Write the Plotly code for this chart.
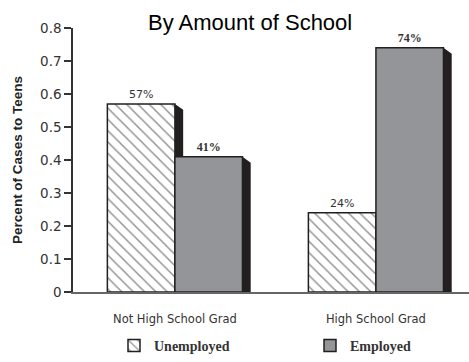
import plotly.graph_objects as go

categories = ["Not High School Grad", "High School Grad"]
unemployed = [0.57, 0.24]
employed = [0.41, 0.74]
series_names = ["Unemployed", "Employed"]
y_ticks = [0, 0.1, 0.2, 0.3, 0.4, 0.5, 0.6, 0.7, 0.8]
y_ticktext = ["0", "0.1", "0.2", "0.3", "0.4", "0.5", "0.6", "0.7", "0.8"]

xpos = list(range(len(categories)))
BW = 0.336          # bar width in axis units
SW = 0.041          # shadow depth (x units)
SD = 0.018          # shadow bevel drop (y units)
DARK = "#231f20"
GREY = "#939598"

fig = go.Figure()

fig.add_trace(go.Bar(
    x=xpos, y=unemployed, name=series_names[0], offset=-BW, width=BW,
    marker=dict(color="white", line=dict(color=DARK, width=1.5),
                pattern=dict(shape="\\", fgcolor="#222222", bgcolor="white",
                             size=8, solidity=0.18)),
    texttemplate="%{y:.0%}", textposition="outside",
    textfont=dict(family="DejaVu Sans", size=11, color="#333333"),
    cliponaxis=False, legend="legend",
))
fig.add_trace(go.Bar(
    x=xpos, y=employed, name=series_names[1], offset=0, width=BW,
    marker=dict(color=GREY, line=dict(color=DARK, width=1.5)),
    texttemplate="%{y:.0%}", textposition="outside",
    textfont=dict(family="Liberation Serif", size=12, color="#333333", weight="bold"),
    cliponaxis=False, legend="legend2",
))

shapes = []
for xs, vals, off in ((xpos, unemployed, 0.0), (xpos, employed, BW)):
    for x, v in zip(xs, vals):
        xr = x + off
        path = (f"M {xr},0 L {xr},{v} L {xr+SW},{v-SD} L {xr+SW},0 Z")
        shapes.append(dict(type="path", path=path, xref="x", yref="y",
                           fillcolor=DARK, line=dict(width=0), layer="below"))

legend_font = dict(family="Liberation Serif", size=14, color="#333333", weight="bold")
leg_y = -(346 - 292) / 264

fig.update_layout(
    width=469, height=362,
    margin=dict(l=73, r=0, t=28, b=70),
    paper_bgcolor="white", plot_bgcolor="white",
    barmode="overlay",
    showlegend=True,
    shapes=shapes,
    legend=dict(orientation="h", x=(114 - 73) / 396, xanchor="left",
                y=leg_y, yanchor="middle", font=legend_font,
                bgcolor="rgba(0,0,0,0)"),
    legend2=dict(orientation="h", x=(310 - 73) / 396, xanchor="left",
                 y=leg_y, yanchor="middle", font=legend_font,
                 bgcolor="rgba(0,0,0,0)"),
    annotations=[dict(text="By Amount of School",
                      x=(250 - 73) / 396, xref="paper", y=(292 - 22) / 264, yref="paper",
                      xanchor="center", yanchor="middle", showarrow=False,
                      font=dict(family="Liberation Sans", size=22, color="black"))],
)

fig.update_xaxes(
    range=[-0.507, 1.463], tickvals=xpos, ticktext=categories,
    showline=True, linecolor="#666666", linewidth=1.5,
    ticks="outside", ticklen=15, tickcolor="rgba(0,0,0,0)",
    showgrid=False, zeroline=False,
    tickfont=dict(family="DejaVu Sans", size=11.5, color="#333333"),
)
fig.update_yaxes(
    range=[0, 0.8], tickvals=y_ticks, ticktext=y_ticktext,
    showline=True, linecolor="#333333", linewidth=1.5,
    ticks="outside", ticklen=7, tickwidth=1.5, tickcolor="#333333",
    showgrid=False, zeroline=False,
    tickfont=dict(family="DejaVu Sans", size=13.5, color="#333333"),
    title=dict(text="Percent of Cases to Teens", standoff=14,
               font=dict(family="Liberation Sans", size=13.5,
                         color="#222222", weight="bold")),
)

fig.write_html("out.html")
